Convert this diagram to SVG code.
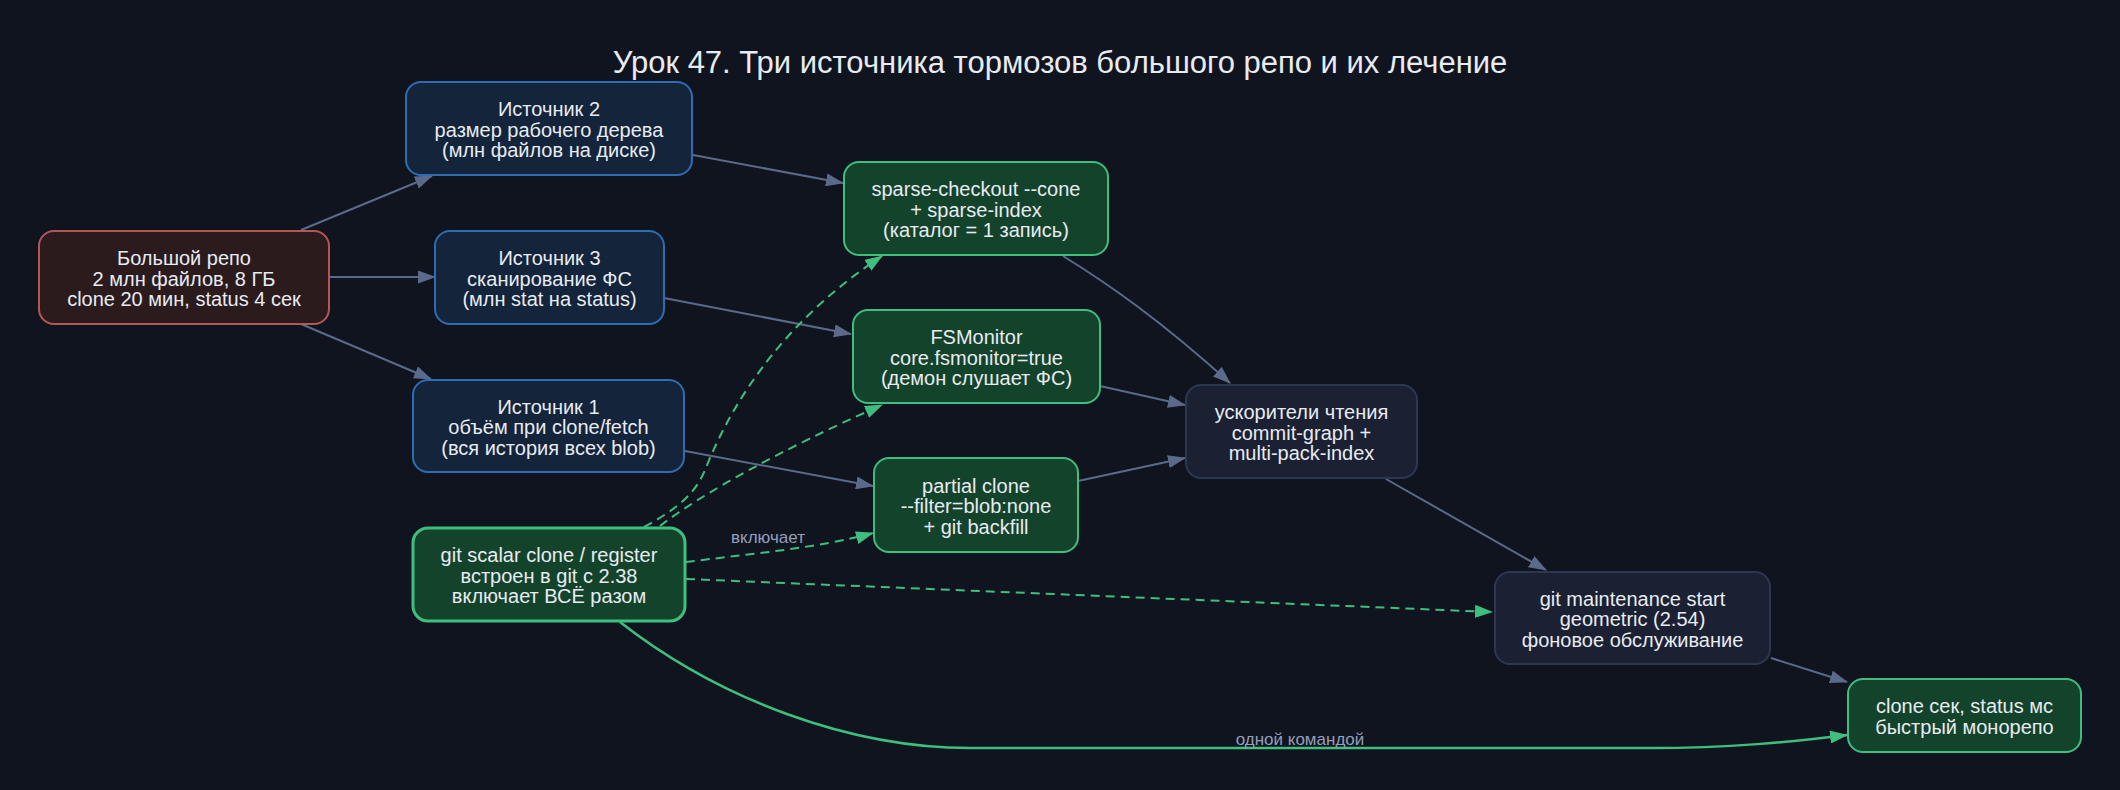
<svg xmlns="http://www.w3.org/2000/svg" width="2120" height="790" viewBox="0 0 2120 790">
<style>
.bg{fill:#10141f}
.n rect{stroke-width:2}
.red rect{fill:#2b1b1d;stroke:#b35755}
.blue rect{fill:#13243b;stroke:#2e6cb3}
.green rect{fill:#14432b;stroke:#3fbf7f}
.dark rect{fill:#1b2133;stroke:#2d3752}
.thick rect{stroke-width:3}
text{font-family:"Liberation Sans",Arial,sans-serif;fill:#e8ebf2;text-anchor:middle}
.n text{font-size:20px}
.title{font-size:31px}
.lbl{font-size:17px;fill:#939fbd}
.e{fill:none;stroke:#5b6a8a;stroke-width:2}
.g{fill:none;stroke:#3fbf7f;stroke-width:2}
.d{stroke-dasharray:9,6}
.s{stroke-width:2.5}
</style>
<defs>
<marker id="ah" markerUnits="userSpaceOnUse" markerWidth="18" markerHeight="13" refX="17" refY="6.5" orient="auto" viewBox="0 0 18 13">
<path d="M0,0 L18,6.5 L0,13 z" fill="#5b6a8a"/>
</marker>
<marker id="ahg" markerUnits="userSpaceOnUse" markerWidth="18" markerHeight="13" refX="17" refY="6.5" orient="auto" viewBox="0 0 18 13">
<path d="M0,0 L18,6.5 L0,13 z" fill="#3fbf7f"/>
</marker>
</defs>
<rect class="bg" x="0" y="0" width="2120" height="790"/>
<text class="title" x="1060" y="73">Урок 47. Три источника тормозов большого репо и их лечение</text>

<g id="edges">
<path class="e" d="M301,230 L432,176" marker-end="url(#ah)"/>
<path class="e" d="M329,277 L435,277" marker-end="url(#ah)"/>
<path class="e" d="M301,324 L431,379" marker-end="url(#ah)"/>
<path class="e" d="M693,155 L843,183" marker-end="url(#ah)"/>
<path class="e" d="M664,298 L851,334" marker-end="url(#ah)"/>
<path class="e" d="M685,451 L873,486" marker-end="url(#ah)"/>
<path class="e" d="M1063,256 C1110,285 1160,320 1230,383" marker-end="url(#ah)"/>
<path class="e" d="M1100,386 L1185,405" marker-end="url(#ah)"/>
<path class="e" d="M1078,481 L1185,458" marker-end="url(#ah)"/>
<path class="e" d="M1386,479 L1546,570" marker-end="url(#ah)"/>
<path class="e" d="M1771,658 L1847,682" marker-end="url(#ah)"/>
<path class="g d" d="M644,527 C675,510 695,495 705,470 C725,420 770,330 882,256" marker-end="url(#ahg)"/>
<path class="g d" d="M660,526 C700,495 780,450 882,405" marker-end="url(#ahg)"/>
<path class="g d" d="M686,562 C740,555 820,548 873,533" marker-end="url(#ahg)"/>
<path class="g d" d="M686,579 L1492,612" marker-end="url(#ahg)"/>
<path class="g s" d="M620,622 C720,700 850,748 970,748 L1650,748 C1730,748 1790,742 1847,735" marker-end="url(#ahg)"/>
<text class="lbl" x="768" y="543">включает</text>
<text class="lbl" x="1300" y="745">одной командой</text>
</g>

<g id="big" class="n red">
<rect x="39" y="231" width="290" height="93" rx="15"/>
<text x="184" y="265">Большой репо</text>
<text x="184" y="285.5">2 млн файлов, 8 ГБ</text>
<text x="184" y="306">clone 20 мин, status 4 сек</text>
</g>

<g id="src2" class="n blue">
<rect x="406" y="82" width="286" height="93" rx="15"/>
<text x="549" y="116">Источник 2</text>
<text x="549" y="136.5">размер рабочего дерева</text>
<text x="549" y="157">(млн файлов на диске)</text>
</g>

<g id="src3" class="n blue">
<rect x="435" y="231" width="229" height="93" rx="15"/>
<text x="549.5" y="265">Источник 3</text>
<text x="549.5" y="285.5">сканирование ФС</text>
<text x="549.5" y="306">(млн stat на status)</text>
</g>

<g id="src1" class="n blue">
<rect x="413" y="380" width="271" height="92" rx="15"/>
<text x="548.5" y="413.5">Источник 1</text>
<text x="548.5" y="434">объём при clone/fetch</text>
<text x="548.5" y="454.5">(вся история всех blob)</text>
</g>

<g id="scalar" class="n green thick">
<rect x="413" y="528" width="272" height="93" rx="15"/>
<text x="549" y="562">git scalar clone / register</text>
<text x="549" y="582.5">встроен в git с 2.38</text>
<text x="549" y="603">включает ВСЁ разом</text>
</g>

<g id="sparse" class="n green">
<rect x="844" y="162" width="264" height="93" rx="15"/>
<text x="976" y="196">sparse-checkout --cone</text>
<text x="976" y="216.5">+ sparse-index</text>
<text x="976" y="237">(каталог = 1 запись)</text>
</g>

<g id="fsmon" class="n green">
<rect x="853" y="310" width="247" height="93" rx="15"/>
<text x="976.5" y="344">FSMonitor</text>
<text x="976.5" y="364.5">core.fsmonitor=true</text>
<text x="976.5" y="385">(демон слушает ФС)</text>
</g>

<g id="partial" class="n green">
<rect x="874" y="458" width="204" height="94" rx="15"/>
<text x="976" y="492.5">partial clone</text>
<text x="976" y="513">--filter=blob:none</text>
<text x="976" y="533.5">+ git backfill</text>
</g>

<g id="accel" class="n dark">
<rect x="1186" y="385" width="231" height="93" rx="15"/>
<text x="1301.5" y="419">ускорители чтения</text>
<text x="1301.5" y="439.5">commit-graph +</text>
<text x="1301.5" y="460">multi-pack-index</text>
</g>

<g id="maint" class="n dark">
<rect x="1495" y="572" width="275" height="92" rx="15"/>
<text x="1632.5" y="605.5">git maintenance start</text>
<text x="1632.5" y="626">geometric (2.54)</text>
<text x="1632.5" y="646.5">фоновое обслуживание</text>
</g>

<g id="result" class="n green">
<rect x="1848" y="679" width="233" height="73" rx="15"/>
<text x="1964.5" y="713">clone сек, status мс</text>
<text x="1964.5" y="733.5">быстрый монорепо</text>
</g>
</svg>
